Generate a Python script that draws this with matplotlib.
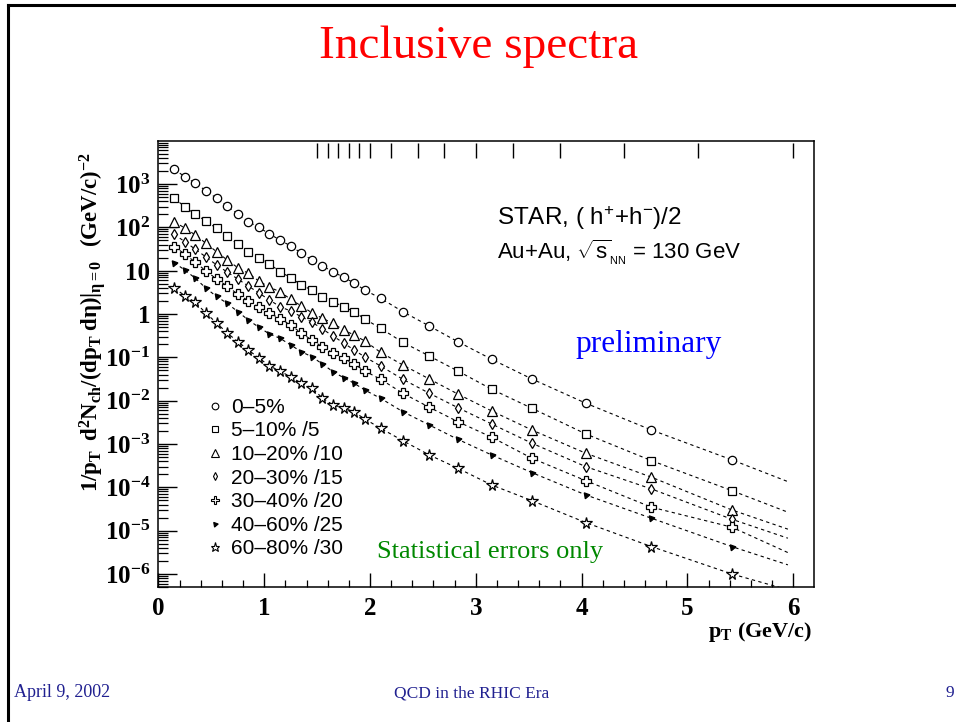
import matplotlib
matplotlib.use("Agg")
import matplotlib.pyplot as plt
from matplotlib.lines import Line2D
import matplotlib.ticker as mticker

plt.rcParams['font.family'] = ['Liberation Serif', 'DejaVu Serif']
plt.rcParams['mathtext.fontset'] = 'custom'
plt.rcParams['mathtext.rm'] = 'Liberation Serif'
plt.rcParams['mathtext.bf'] = 'Liberation Serif:bold'
plt.rcParams['mathtext.it'] = 'Liberation Serif:italic'
plt.rcParams['mathtext.sf'] = 'Liberation Sans'

# mean pT of each bin (GeV/c)
pt = [0.15, 0.25, 0.35, 0.45, 0.55, 0.65, 0.75, 0.85, 0.95, 1.05,
      1.15, 1.25, 1.35, 1.45, 1.55, 1.65, 1.75, 1.85, 1.95,
      2.10, 2.31, 2.56, 2.83, 3.15, 3.53, 4.04, 4.66, 5.42]

# bin edges marked at the top of the frame
bin_edges = [1.5, 1.6, 1.7, 1.8, 1.9, 2.0, 2.2, 2.45, 2.7, 3.0, 3.35, 3.8, 4.4, 5.1, 6.0]

c0_5 = [2170, 1470, 1030, 697, 466, 309, 202, 134, 99.8, 69.8,
        50.8, 37.0, 25.5, 17.6, 12.8, 9.44, 7.00, 5.18, 3.56,
        2.30, 1.13, 0.527, 0.229, 0.090, 0.0316, 0.0087, 0.0021, 0.00043]
c5_10 = [465, 298, 199, 139, 94.6, 63.8, 40.4, 27.3, 19.2, 14.2,
         9.44, 6.86, 4.66, 3.57, 2.50, 1.92, 1.47, 1.13, 0.765,
         0.467, 0.222, 0.107, 0.0483, 0.0183, 0.00666, 0.00170, 0.000412, 8.37e-5]
c10_20 = [134, 96, 66.2, 42.6, 27.3, 17.6, 11.7, 8.66, 5.75, 4.12,
          3.26, 2.18, 1.53, 1.07, 0.794, 0.608, 0.426, 0.327, 0.238,
          0.130, 0.0665, 0.0316, 0.0142, 0.00577, 0.00210, 0.000610, 0.000171, 3.00e-5]
c20_30 = [68.8, 46.4, 31.0, 20.6, 13.5, 9.28, 6.40, 4.41, 3.04, 2.10,
          1.47, 1.17, 0.864, 0.652, 0.450, 0.310, 0.214, 0.147, 0.102,
          0.0630, 0.0311, 0.0148, 0.00688, 0.00289, 0.00104, 0.000299, 9.16e-5, 1.83e-5]
c30_40 = [35.6, 24.2, 15.5, 9.79, 6.40, 4.41, 2.84, 2.02, 1.45, 1.04,
          0.785, 0.556, 0.363, 0.251, 0.173, 0.126, 0.0948, 0.0700, 0.0483,
          0.0311, 0.0148, 0.00703, 0.00327, 0.00143, 0.000468, 0.000142, 3.47e-5, 1.20e-5]
c40_60 = [15.2, 10.3, 6.64, 3.91, 2.53, 1.76, 1.13, 0.725, 0.492, 0.345,
          0.274, 0.192, 0.135, 0.103, 0.0700, 0.0466, 0.0338, 0.0251, 0.0176,
          0.0113, 0.00556, 0.00274, 0.00128, 0.000557, 0.000218, 6.66e-5, 1.93e-5, 4.28e-6]
c60_80 = [3.91, 2.66, 1.84, 1.04, 0.618, 0.363, 0.231, 0.147, 0.0964, 0.0630,
          0.0483, 0.0351, 0.0255, 0.0196, 0.0115, 0.00794, 0.00676, 0.00547, 0.00378,
          0.00230, 0.00119, 0.000557, 0.000275, 0.000113, 4.92e-5, 1.53e-5, 4.28e-6, 1.00e-6]

# where the dashed fit curves end
fit_end_pt = 5.95
fit_end = [1.35e-4, 2.66e-5, 1.08e-5, 6.68e-6, 3.11e-6, 1.62e-6, 4.3e-7]

labels = ['0\u20135%', '5\u201310% /5', '10\u201320% /10', '20\u201330% /15',
          '30\u201340% /20', '40\u201360% /25', '60\u201380% /30']
series = [c0_5, c5_10, c10_20, c20_30, c30_40, c40_60, c60_80]

# ROOT-like marker styles: (marker, size, filled)
styles = [('o', 6.0, False), ('s', 6.0, False), ('^', 6.5, False), ('d', 5.0, False),
          ('P', 7.0, False), ((3, 0, 40), 5.0, True), ('*', 8.5, False)]

fig = plt.figure(figsize=(9.56, 7.22), dpi=100)
ax = fig.add_axes([0.1657, 0.187, 0.6858, 0.6177])

handles = []
for ys, end, (mk, ms, filled) in zip(series, fit_end, styles):
    ax.plot(pt + [fit_end_pt], ys + [end], color='black', lw=0.8,
            linestyle=(0, (3, 3)), zorder=2)
    ax.plot(pt, ys, linestyle='none', marker=mk, ms=ms, mew=0.9,
            mec='black', mfc='black' if filled else 'white', zorder=3)
    handles.append(Line2D([], [], linestyle='none', marker=mk, ms=ms * 0.8, mew=0.8,
                          mec='black', mfc='black' if filled else 'white'))

ax.set_yscale('log')
ax.set_xlim(0, 6.197)
ax.set_ylim(5e-7, 9.8e3)

# top bin-edge marks
ax.vlines(bin_edges, 0.962, 0.995, transform=ax.get_xaxis_transform(),
          color='black', lw=1.0)

ax.xaxis.set_major_locator(mticker.MultipleLocator(1))
ax.xaxis.set_minor_locator(mticker.MultipleLocator(0.2))
ax.xaxis.set_major_formatter(mticker.FormatStrFormatter('%d'))

ydec = [1e-6, 1e-5, 1e-4, 1e-3, 1e-2, 1e-1, 1, 10, 1e2, 1e3]
ylabs = [r'$\mathbf{10^{-6}}$', r'$\mathbf{10^{-5}}$', r'$\mathbf{10^{-4}}$',
         r'$\mathbf{10^{-3}}$', r'$\mathbf{10^{-2}}$', r'$\mathbf{10^{-1}}$',
         '1', '10', r'$\mathbf{10^{2}}$', r'$\mathbf{10^{3}}$']
ax.set_yticks(ydec)
ax.set_yticklabels(ylabs)
ax.yaxis.set_minor_locator(mticker.LogLocator(base=10, subs=range(2, 10), numticks=20))
ax.yaxis.set_minor_formatter(mticker.NullFormatter())

ax.tick_params(axis='y', which='major', direction='in', length=14, width=1.0,
               labelsize=18, pad=6, right=False)
ax.tick_params(axis='y', which='minor', direction='in', length=7, width=0.9, right=False)
ax.tick_params(axis='x', which='major', direction='in', length=10, width=1.0,
               labelsize=18, pad=7, top=False)
ax.tick_params(axis='x', which='minor', direction='in', length=5, width=0.9, top=False)
for lab in ax.get_xticklabels() + ax.get_yticklabels():
    lab.set_fontweight('bold')
for sp in ax.spines.values():
    sp.set_linewidth(1.1)

fig.text(93 / 956, 1 - 322 / 722,
         r'$\mathbf{1/p_{T}\;\; d^{2}N_{ch}/(dp_{T}\; d\eta)|_{\eta=0}\;\;\; (GeV/c)^{-2}}$',
         rotation=90, ha='center', va='center', fontsize=16.5)
fig.text(812 / 956, 1 - 632 / 722, r'$\mathbf{p_{T}}$ (GeV/c)', ha='right', va='center',
         fontsize=16, fontweight='bold')

leg = ax.legend(handles, labels, loc='upper left', bbox_to_anchor=(0.07, 0.424),
                frameon=False, fontsize=15, handlelength=1.0, handletextpad=0.3,
                labelspacing=0.22, borderpad=0, borderaxespad=0)
for t in leg.get_texts():
    t.set_fontfamily('Liberation Sans')

ax.text(497 / 956, 1 - 225 / 722, r'STAR, ( $\mathsf{h^{+}}$+$\mathsf{h^{-}}$)/2',
        transform=fig.transFigure, fontsize=17.5, family='Liberation Sans', va='baseline')
ax.text(497 / 956, 1 - 259 / 722, r'Au+Au, $\mathsf{\sqrt{s}_{_{NN}}}$ = 130 GeV',
        transform=fig.transFigure, fontsize=16, family='Liberation Sans', va='baseline')
ax.text(575 / 956, 1 - 352 / 722, 'preliminary', transform=fig.transFigure,
        fontsize=22.5, color='#0000ff', va='baseline')
ax.text(377 / 956, 1 - 558 / 722, 'Statistical errors only', transform=fig.transFigure,
        fontsize=19, color='#008800', va='baseline')

fig.text(479 / 956, 1 - 58 / 722, 'Inclusive spectra', ha='center', va='baseline',
         fontsize=34, color='#ff0000')
fig.text(14 / 956, 1 - 697 / 722, 'April 9, 2002', ha='left', va='baseline',
         fontsize=13, color='#202090')
fig.text(472 / 956, 1 - 697 / 722, 'QCD in the RHIC Era', ha='center', va='baseline',
         fontsize=12.5, color='#202090')
fig.text(950 / 956, 1 - 697 / 722, '9', ha='center', va='baseline',
         fontsize=12.5, color='#202090')

# slide border (top and left edges visible)
fig.add_artist(Line2D([8 / 956, 1.0], [1 - 5 / 722, 1 - 5 / 722],
                      transform=fig.transFigure, color='black', lw=2.2))
fig.add_artist(Line2D([8 / 956, 8 / 956], [1 - 5 / 722, 0.0],
                      transform=fig.transFigure, color='black', lw=2.2))

fig.savefig('out.png', dpi=100)
